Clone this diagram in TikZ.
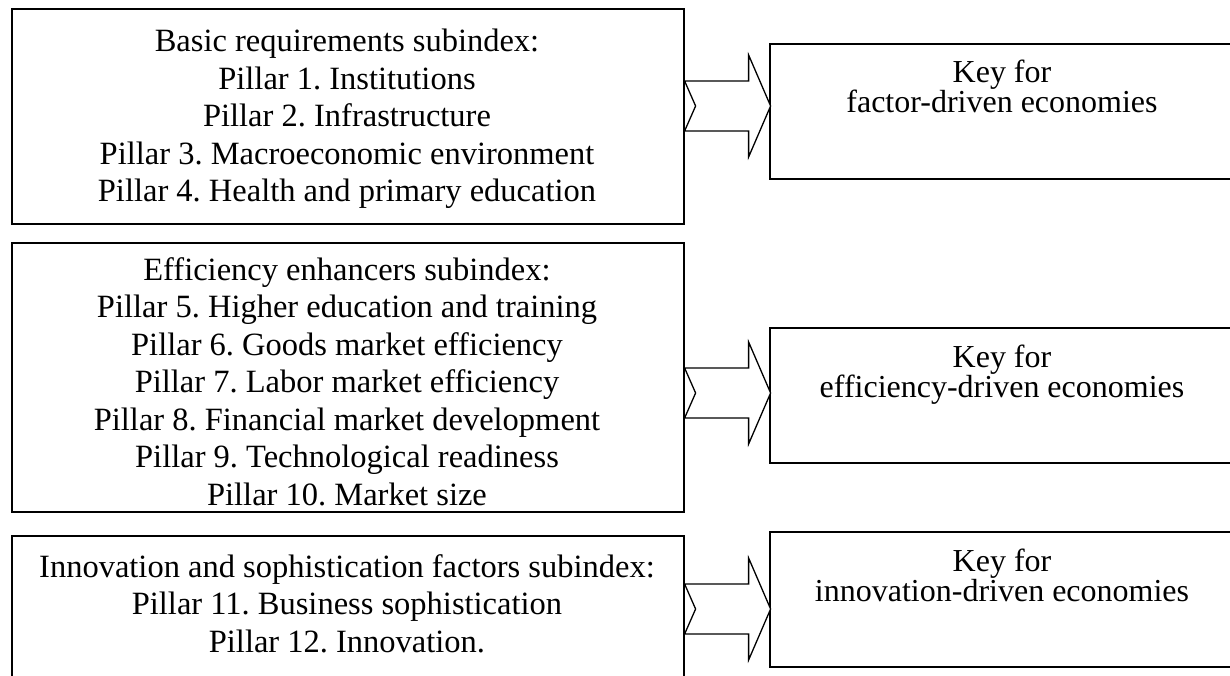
\documentclass[tikz,border=0pt]{standalone}
\usepackage{fontspec}
\setmainfont{Liberation Serif}
\frenchspacing
\usetikzlibrary{positioning}

\tikzset{
  subbox/.style={draw,line width=1.6pt,rectangle,inner sep=0pt,anchor=north west,minimum width=672},
  keybox/.style={draw,line width=1.6pt,rectangle,inner sep=0pt,anchor=north west,minimum width=467,minimum height=135},
  subtext/.style={align=center,inner sep=0pt,anchor=north,font=\fontsize{32.5}{37.5}\selectfont},
  keytext/.style={align=center,inner sep=0pt,anchor=north,font=\fontsize{32}{30}\selectfont},
  blockarrow/.style={draw,line width=1.3pt,line join=miter,fill=white}
}

% notched block arrow, tail point given
\newcommand{\notcharrow}[1]{%
  \draw[blockarrow] (#1) ++(0,-25) -- ++(64,0) -- ++(0,-26) -- ++(22,51)
    -- ++(-22,51) -- ++(0,-26) -- ++(-64,0) -- ++(11,-25) -- cycle;}

\begin{document}
\begin{tikzpicture}[x=1pt,y=-1pt]
\useasboundingbox (0,0) rectangle (1230,676);

% subindex boxes
\node[subbox,minimum height=215] (basic) at (11,8) {};
\node[subbox,minimum height=269] (effic) at (11,242) {};
\node[subbox,minimum height=200] (innov) at (11,535) {};

% key boxes
\node[keybox] (factor) at (769,43) {};
\node[keybox] (effkey) at (769,327) {};
\node[keybox] (innkey) at (769,531) {};

% texts
\node[subtext] (basictxt) at (347,29) {Basic requirements subindex:\\
  Pillar 1. Institutions\\ Pillar 2. Infrastructure\\
  Pillar 3. Macroeconomic environment\\ Pillar 4. Health and primary education};
\node[subtext] (effictxt) at (347,257) {Efficiency enhancers subindex:\\
  Pillar 5. Higher education and training\\ Pillar 6. Goods market efficiency\\
  Pillar 7. Labor market efficiency\\ Pillar 8. Financial market development\\
  Pillar 9. Technological readiness\\ Pillar 10. Market size};
\node[subtext] (innovtxt) at (347,554) {Innovation and sophistication factors subindex:\\
  Pillar 11. Business sophistication\\ Pillar 12. Innovation.};

\node[keytext] (factortxt) at (1002,60) {Key for\\ factor-driven economies};
\node[keytext] (effkeytxt) at (1002,345) {Key for\\ efficiency-driven economies};
\node[keytext] (innkeytxt) at (1002,549) {Key for\\ innovation-driven economies};

% arrows
\coordinate (a1) at (basic.east |- 0,106);
\coordinate (a2) at (effic.east |- 0,393);
\coordinate (a3) at (innov.east |- 0,609);
\notcharrow{a1}
\notcharrow{a2}
\notcharrow{a3}

\end{tikzpicture}
\end{document}
